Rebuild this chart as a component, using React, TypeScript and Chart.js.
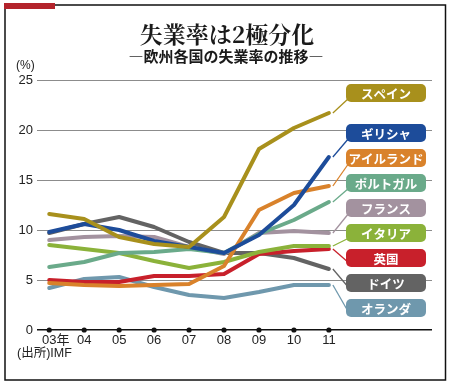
import { useEffect, useRef } from 'react';
import { Chart, registerables } from 'chart.js';

Chart.register(...registerables);

const years = [2003, 2004, 2005, 2006, 2007, 2008, 2009, 2010, 2011];
const yearLabels = ['\u200303年', '04', '05', '06', '07', '08', '09', '10', '11'];
const yTicks = [0, 5, 10, 15, 20, 25];

const seriesNames = ['スペイン', 'ギリシャ', 'アイルランド', 'ポルトガル', 'フランス', 'イタリア', '英国', 'ドイツ', 'オランダ'];
const seriesColors = ['#a8901c', '#1d4c9a', '#d9822b', '#6aaa8a', '#a3929f', '#8bb23a', '#c8202b', '#636363', '#6f98ad'];

const spain = [11.6, 11.1, 9.3, 8.6, 8.3, 11.3, 18.1, 20.2, 21.7];
const greece = [9.8, 10.6, 10.0, 8.9, 8.3, 7.7, 9.5, 12.5, 17.3];
const ireland = [4.7, 4.5, 4.4, 4.5, 4.6, 6.4, 12.0, 13.7, 14.4];
const portugal = [6.3, 6.8, 7.7, 7.8, 8.1, 7.7, 9.6, 11.0, 12.8];
const france = [9.0, 9.3, 9.4, 9.3, 8.3, 7.6, 9.7, 9.9, 9.7];
const italy = [8.5, 8.1, 7.7, 6.9, 6.2, 6.8, 7.8, 8.4, 8.4];
const uk = [5.0, 4.8, 4.8, 5.4, 5.4, 5.6, 7.6, 7.9, 8.1];
const germany = [9.7, 10.6, 11.3, 10.3, 8.8, 7.7, 7.7, 7.2, 6.1];
const netherlands = [4.2, 5.1, 5.3, 4.3, 3.5, 3.2, 3.8, 4.5, 4.5];

const seriesValues = [spain, greece, ireland, portugal, france, italy, uk, germany, netherlands];

// vertical centres of the name tags (layout, not data)
const tagCenters = [93, 133, 158, 183, 208, 233, 258, 283, 308];

const SANS = "'Liberation Sans', 'Noto Sans CJK JP', sans-serif";
const JP = "'Noto Sans CJK JP', 'Liberation Sans', sans-serif";

const decorPlugin = {
  id: 'decor',
  beforeDraw(chart: any) {
    const ctx = chart.ctx;
    ctx.save();
    ctx.fillStyle = '#ffffff';
    ctx.fillRect(0, 0, chart.width, chart.height);
    ctx.restore();
  },
  afterDatasetsDraw(chart: any) {
    const ctx = chart.ctx;
    ctx.save();
    const boxLeft = 346;
    const boxW = 80;
    const boxH = 18;
    seriesNames.forEach((name, i) => {
      const meta = chart.getDatasetMeta(i);
      const pts = meta.data;
      const last = pts[pts.length - 1];
      const cy = tagCenters[i];
      ctx.strokeStyle = seriesColors[i];
      ctx.lineWidth = 1.3;
      ctx.beginPath();
      ctx.moveTo(last.x + 4, last.y);
      ctx.lineTo(boxLeft + 3, cy + 5);
      ctx.stroke();
      ctx.fillStyle = seriesColors[i];
      ctx.beginPath();
      (ctx as any).roundRect(boxLeft, cy - boxH / 2, boxW, boxH, 5);
      ctx.fill();
      ctx.fillStyle = '#ffffff';
      ctx.font = `bold 12.5px ${JP}`;
      ctx.textAlign = 'center';
      ctx.textBaseline = 'middle';
      ctx.fillText(name, boxLeft + boxW / 2, cy + 1);
    });
    ctx.restore();
  },
  afterDraw(chart: any) {
    const ctx = chart.ctx;
    ctx.save();
    // frame
    ctx.strokeStyle = '#111111';
    ctx.lineWidth = 1.5;
    ctx.strokeRect(5, 5, 440.5, 375);
    ctx.fillStyle = '#b3232b';
    ctx.fillRect(4, 3, 51, 6);
    // title
    ctx.fillStyle = '#1a1a1a';
    ctx.textAlign = 'center';
    ctx.textBaseline = 'middle';
    ctx.font = `bold 23px 'Noto Serif CJK JP', ${JP}`;
    ctx.fillText('失業率は2極分化', 227, 34);
    ctx.font = `bold 15px ${JP}`;
    ctx.fillText('―欧州各国の失業率の推移―', 226, 56);
    // unit
    ctx.font = `12px ${SANS}`;
    ctx.textAlign = 'left';
    ctx.fillStyle = '#222222';
    ctx.fillText('(%)', 16, 66);
    // source
    ctx.font = `12.5px ${SANS}`;
    ctx.fillText('(出所)IMF', 17, 354);
    ctx.restore();
  },
};

export default function App() {
  const ref = useRef<HTMLCanvasElement | null>(null);
  useEffect(() => {
    if (!ref.current) return;
    const lineSets = seriesValues.map((vals, i) => ({
      type: 'line' as const,
      label: seriesNames[i],
      data: vals.map((v, j) => ({ x: years[j], y: v })),
      borderColor: seriesColors[i],
      backgroundColor: seriesColors[i],
      borderWidth: 4,
      pointRadius: 0,
      tension: 0,
      borderJoinStyle: 'round' as const,
      borderCapStyle: 'round' as const,
    }));
    const dots = {
      type: 'scatter' as const,
      label: 'axis',
      data: years.map((y) => ({ x: y, y: 0 })),
      pointRadius: 2.6,
      pointBackgroundColor: '#111111',
      pointBorderWidth: 0,
      showLine: false,
      clip: false as any,
    };
    const chart = new Chart(ref.current, {
      type: 'line',
      data: { datasets: [...lineSets, dots] as any },
      options: {
        animation: false,
        responsive: false,
        events: [],
        layout: { padding: { left: 0, right: 18, top: 80, bottom: 0 } },
        plugins: { legend: { display: false }, title: { display: false }, tooltip: { enabled: false } },
        scales: {
          x: {
            type: 'linear',
            min: 2002.65,
            max: 2013.95,
            afterBuildTicks: (scale: any) => {
              scale.ticks = years.map((v) => ({ value: v }));
            },
            afterFit: (scale: any) => {
              scale.height = 54;
            },
            grid: { display: false, drawTicks: false },
            border: { display: false },
            ticks: {
              padding: 3,
              autoSkip: false,
              maxRotation: 0,
              color: '#222222',
              font: { family: SANS, size: 13 },
              callback: (v: any) => {
                const k = years.indexOf(Number(v));
                return k >= 0 ? yearLabels[k] : '';
              },
            },
          },
          y: {
            min: 0,
            max: 25,
            afterBuildTicks: (scale: any) => {
              scale.ticks = yTicks.map((v) => ({ value: v }));
            },
            afterFit: (scale: any) => {
              scale.width = 37;
            },
            border: { display: false },
            grid: {
              drawTicks: false,
              color: (c: any) => (c.tick && c.tick.value === 0 ? '#111111' : '#8c8c8c'),
              lineWidth: (c: any) => (c.tick && c.tick.value === 0 ? 1.5 : 1),
            },
            ticks: {
              padding: 4,
              color: '#222222',
              font: { family: SANS, size: 13 },
            },
          },
        },
      },
      plugins: [decorPlugin],
    });
    return () => chart.destroy();
  }, []);
  return (
    <div style={{ position: 'absolute', left: 0, top: 0, width: 450, height: 384 }}>
      <canvas ref={ref} width={450} height={384} style={{ width: 450, height: 384, display: 'block' }} />
    </div>
  );
}
